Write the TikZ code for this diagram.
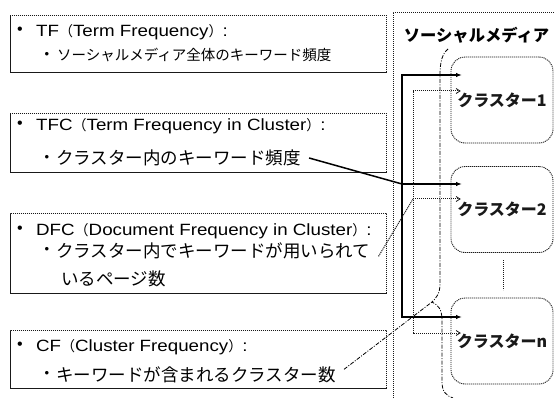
\documentclass[tikz,border=0pt]{standalone}
\usepackage{fontspec}
\setmainfont{Liberation Sans}
\newfontfamily\headfont{Liberation Sans}[FakeStretch=1.15]
\newfontfamily\jp{Noto Sans CJK JP}
\usetikzlibrary{arrows.meta}

\newcommand{\lpar}{{\jp\fontsize{14}{16}\selectfont （}}
\newcommand{\rpar}{{\jp\fontsize{14}{16}\selectfont ）}}

\tikzset{
  dotline/.style={line width=0.9pt, dash pattern=on 1.1pt off 0.9pt, black!90},
  infobox/.style={dotline, draw, rectangle, inner sep=0pt, anchor=north west, minimum width=376pt},
  cluster/.style={dotline, draw, rounded corners=14pt, minimum width=102pt, minimum height=86pt,
                  inner sep=0pt, font=\jp\bfseries\fontsize{16}{18}\selectfont},
  headtxt/.style={anchor=base west, inner sep=0pt, font=\headfont\fontsize{16.3}{18}\selectfont},
  subtxt/.style={anchor=base west, inner sep=0pt, font=\jp\fontsize{17.5}{20}\selectfont},
  smalltxt/.style={anchor=base west, inner sep=0pt, font=\jp\fontsize{14.5}{17}\selectfont},
  bigdot/.style={inner sep=0pt, font=\fontsize{16}{18}\selectfont},
  smalldot/.style={inner sep=0pt, font=\fontsize{13}{15}\selectfont},
  tfcline/.style={line width=1.5pt, black, line join=miter},
  tfctip/.style={-{Latex[length=6pt,width=4.5pt]}},
  dfcline/.style={dotline, line width=1pt},
  chevron/.style={black!90, line width=0.8pt},
  cfline/.style={line width=0.8pt, black, dash pattern=on 4pt off 1.5pt on 1pt off 1.5pt},
}

\begin{document}
\begin{tikzpicture}[x=1pt,y=-1pt]
\useasboundingbox (0,0) rectangle (554,398);

% the four measure boxes
\node[infobox, minimum height=57pt] (tfbox)  at (10,15)  {};
\node[infobox, minimum height=59pt] (tfcbox) at (10,113) {};
\node[infobox, minimum height=80pt] (dfcbox) at (10,213) {};
\node[infobox, minimum height=58pt] (cfbox)  at (10,330) {};

% TF
\node[bigdot]   (b1) at (20,31) {•};
\node[headtxt]  (tfhead) at (36,36.5) {TF\lpar Term Frequency\rpar :};
\node[smalldot] (b2) at (47,55.5) {•};
\node[smalltxt] (tfsub) at (57,61) {ソーシャルメディア全体のキーワード頻度};

% TFC
\node[bigdot]   (b3) at (20,125) {•};
\node[headtxt]  (tfchead) at (36,130.7) {TFC\lpar Term Frequency in Cluster\rpar :};
\node[smalldot] (b4) at (47,158) {•};
\node[subtxt]   (tfcsub) at (56,164.6) {クラスター内のキーワード頻度};

% DFC
\node[bigdot]   (b5) at (20,229.5) {•};
\node[headtxt]  (dfchead) at (36,235) {DFC\lpar Document Frequency in Cluster\rpar :};
\node[smalldot] (b6) at (47,250.5) {•};
\node[subtxt]   (dfcsub) at (56,257) {クラスター内でキーワードが用いられて};
\node[subtxt]   (dfcsub2) at (61,285.5) {いるページ数};

% CF
\node[bigdot]   (b7) at (20,346) {•};
\node[headtxt]  (cfhead) at (36,351.7) {CF\lpar Cluster Frequency\rpar :};
\node[smalldot] (b8) at (47,374.5) {•};
\node[subtxt]   (cfsub) at (56,381) {キーワードが含まれるクラスター数};

% social media frame
\draw[dotline] (393,398) -- (393,12) -- (554,12);
\node[font=\jp\bfseries\fontsize{16.3}{18}\selectfont, inner sep=0pt] (sm) at (476.5,35) {ソーシャルメディア};

% clusters
\node[cluster] (c1) at (502,100)   {クラスター1};
\node[cluster] (c2) at (502,209.5) {クラスター2};
\node[cluster] (cn) at (502,341)   {クラスターn};
\draw[dotline] (503,260) -- (503,290);

% TFC: solid bus
\coordinate (sTop) at (402,75);
\coordinate (sMid) at (402,184);
\coordinate (sBot) at (402,317);
\coordinate (t1) at (462,75);
\coordinate (t2) at (462,184);
\coordinate (t3) at (462,317);
\coordinate (tfcstart) at ([xshift=8pt]tfcsub.east);
\draw[tfcline, {Latex[length=6pt,width=4.5pt]}-{Latex[length=6pt,width=4.5pt]}]
  (t1) -- (sTop) -- (sBot) -- (t3);
\draw[tfcline, tfctip] (sMid) -- (t2);
\draw[tfcline] (tfcstart) -- (sMid);

% DFC: dotted bus
\coordinate (dTop) at (413,91);
\coordinate (dMid) at (413,199);
\coordinate (dBot) at (413,333);
\coordinate (u1) at (460,91);
\coordinate (u2) at (460,199);
\coordinate (u3) at (460,333);
\coordinate (dfcstart) at ([shift={(8,6)}]dfcsub.east);
\draw[dfcline] (u1) -- (dTop) -- (dBot) -- (u3);
\draw[dfcline] (dMid) -- (u2);
\draw[dfcline] (dfcstart) -- (dMid);
\foreach \p in {u1,u2,u3}
  \draw[chevron] ([shift={(-4,-2.5)}]\p) -- (\p) -- ([shift={(-4,2.5)}]\p);

% CF: brace over all clusters
\coordinate (cfTip) at (432,302);
\coordinate (cfstart) at ([shift={(8,-5)}]cfsub.east);
\draw[cfline] (448,49) .. controls (442,54) and (440,62) .. (440,76)
  -- (440,284) .. controls (440,294) and (436,298) .. (cfTip)
  .. controls (438,305) and (442,309) .. (442,320)
  -- (442,382) .. controls (442,391) and (446,396) .. (453,398);
\draw[cfline] (cfstart) -- (cfTip);
\end{tikzpicture}
\end{document}
